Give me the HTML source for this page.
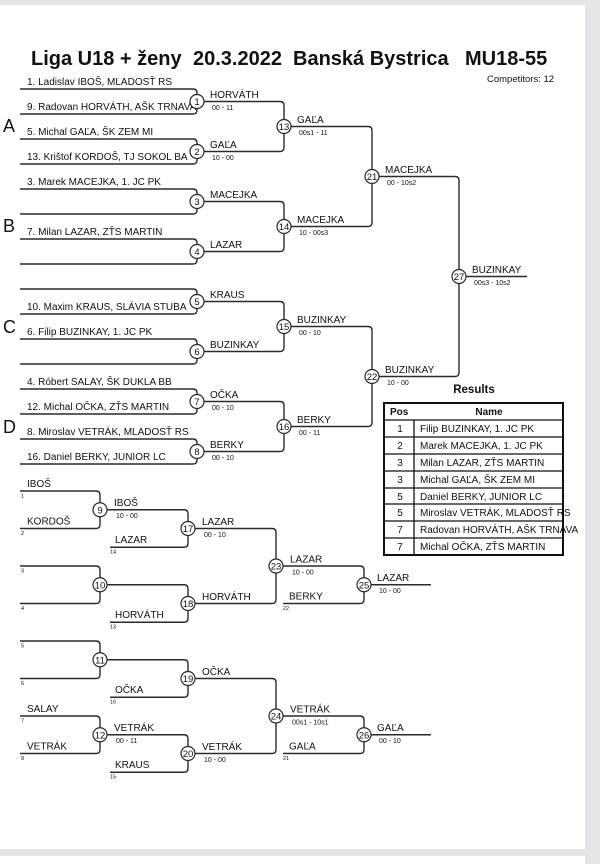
<!DOCTYPE html>
<html>
<head>
<meta charset="utf-8">
<style>
html,body{margin:0;padding:0;width:600px;height:864px;overflow:hidden;background:#e4e4e9;}
svg{display:block;}
text{font-family:"Liberation Sans",Arial,sans-serif;fill:#111;}
.n{font-size:10px;}
.s{font-size:7px;}
.sd{font-size:5.5px;}
.c{font-size:9.5px;text-anchor:middle;}
.t{font-size:20px;font-weight:bold;}
.g{font-size:18px;}
.ln{fill:none;stroke:#2a2a2a;stroke-width:1.4;}
.cir{fill:#fff;stroke:#2a2a2a;stroke-width:1.2;}
</style>
</head>
<body>
<svg width="600" height="864" viewBox="0 0 600 864" xmlns="http://www.w3.org/2000/svg">
<rect x="0" y="0" width="600" height="864" fill="#e4e4e9"/>
<rect x="0" y="5" width="585" height="844" fill="#ffffff"/>
<rect x="0" y="856" width="585" height="8" fill="#ffffff"/>

<!-- Title -->
<text class="t" x="31" y="65">Liga U18 + ženy</text>
<text class="t" x="193" y="65">20.3.2022</text>
<text class="t" x="293" y="65">Banská Bystrica</text>
<text class="t" x="465" y="65">MU18-55</text>
<text x="487" y="82" style="font-size:9.5px">Competitors: 12</text>

<!-- Group letters -->
<text class="g" x="3" y="132">A</text>
<text class="g" x="3" y="232">B</text>
<text class="g" x="3" y="333">C</text>
<text class="g" x="3" y="433">D</text>

<!-- Main bracket lines -->
<path class="ln" d="M20 89 H193 Q197 89 197 93 V110 Q197 114 193 114 H20"/>
<path class="ln" d="M20 139 H193 Q197 139 197 143 V160 Q197 164 193 164 H20"/>
<path class="ln" d="M20 189 H193 Q197 189 197 193 V210 Q197 214 193 214 H20"/>
<path class="ln" d="M20 239 H193 Q197 239 197 243 V260 Q197 264 193 264 H20"/>
<path class="ln" d="M20 289 H193 Q197 289 197 293 V310 Q197 314 193 314 H20"/>
<path class="ln" d="M20 339 H193 Q197 339 197 343 V360 Q197 364 193 364 H20"/>
<path class="ln" d="M20 389 H193 Q197 389 197 393 V410 Q197 414 193 414 H20"/>
<path class="ln" d="M20 439 H193 Q197 439 197 443 V460 Q197 464 193 464 H20"/>

<path class="ln" d="M197 101.5 H280 Q284 101.5 284 105.5 V147.5 Q284 151.5 280 151.5 H197"/>
<path class="ln" d="M197 201.5 H280 Q284 201.5 284 205.5 V247.5 Q284 251.5 280 251.5 H197"/>
<path class="ln" d="M197 301.5 H280 Q284 301.5 284 305.5 V347.5 Q284 351.5 280 351.5 H197"/>
<path class="ln" d="M197 401.5 H280 Q284 401.5 284 405.5 V447.5 Q284 451.5 280 451.5 H197"/>

<path class="ln" d="M284 126.5 H368 Q372 126.5 372 130.5 V222.5 Q372 226.5 368 226.5 H284"/>
<path class="ln" d="M284 326.5 H368 Q372 326.5 372 330.5 V422.5 Q372 426.5 368 426.5 H284"/>

<path class="ln" d="M372 176.5 H455 Q459 176.5 459 180.5 V372.5 Q459 376.5 455 376.5 H372"/>
<path class="ln" d="M459 276.5 H527"/>

<!-- Player names -->
<text class="n" x="27" y="85">1. Ladislav IBOŠ, MLADOSŤ RS</text>
<text class="n" x="27" y="110">9. Radovan HORVÁTH, AŠK TRNAVA</text>
<text class="n" x="27" y="135">5. Michal GAĽA, ŠK ZEM MI</text>
<text class="n" x="27" y="160">13. Krištof KORDOŠ, TJ SOKOL BA</text>
<text class="n" x="27" y="185">3. Marek MACEJKA, 1. JC PK</text>
<text class="n" x="27" y="235">7. Milan LAZAR, ZŤS MARTIN</text>
<text class="n" x="27" y="310">10. Maxim KRAUS, SLÁVIA STUBA</text>
<text class="n" x="27" y="335">6. Filip BUZINKAY, 1. JC PK</text>
<text class="n" x="27" y="385">4. Róbert SALAY, ŠK DUKLA BB</text>
<text class="n" x="27" y="410">12. Michal OČKA, ZŤS MARTIN</text>
<text class="n" x="27" y="435">8. Miroslav VETRÁK, MLADOSŤ RS</text>
<text class="n" x="27" y="460">16. Daniel BERKY, JUNIOR LC</text>

<!-- Winner labels main -->
<text class="n" x="210" y="98">HORVÁTH</text><text class="s" x="212" y="110">00 - 11</text>
<text class="n" x="210" y="148">GAĽA</text><text class="s" x="212" y="160">10 - 00</text>
<text class="n" x="210" y="198">MACEJKA</text>
<text class="n" x="210" y="248">LAZAR</text>
<text class="n" x="210" y="298">KRAUS</text>
<text class="n" x="210" y="348">BUZINKAY</text>
<text class="n" x="210" y="398">OČKA</text><text class="s" x="212" y="410">00 - 10</text>
<text class="n" x="210" y="448">BERKY</text><text class="s" x="212" y="460">00 - 10</text>

<text class="n" x="297" y="123">GAĽA</text><text class="s" x="299" y="135">00s1 - 11</text>
<text class="n" x="297" y="223">MACEJKA</text><text class="s" x="299" y="235">10 - 00s3</text>
<text class="n" x="297" y="323">BUZINKAY</text><text class="s" x="299" y="335">00 - 10</text>
<text class="n" x="297" y="423">BERKY</text><text class="s" x="299" y="435">00 - 11</text>

<text class="n" x="385" y="173">MACEJKA</text><text class="s" x="387" y="185">00 - 10s2</text>
<text class="n" x="385" y="373">BUZINKAY</text><text class="s" x="387" y="385">10 - 00</text>

<text class="n" x="472" y="273">BUZINKAY</text><text class="s" x="474" y="285">00s3 - 10s2</text>

<!-- Main circles -->
<g>
<circle class="cir" cx="197" cy="101.5" r="7"/><text class="c" x="197" y="105">1</text>
<circle class="cir" cx="197" cy="151.5" r="7"/><text class="c" x="197" y="155">2</text>
<circle class="cir" cx="197" cy="201.5" r="7"/><text class="c" x="197" y="205">3</text>
<circle class="cir" cx="197" cy="251.5" r="7"/><text class="c" x="197" y="255">4</text>
<circle class="cir" cx="197" cy="301.5" r="7"/><text class="c" x="197" y="305">5</text>
<circle class="cir" cx="197" cy="351.5" r="7"/><text class="c" x="197" y="355">6</text>
<circle class="cir" cx="197" cy="401.5" r="7"/><text class="c" x="197" y="405">7</text>
<circle class="cir" cx="197" cy="451.5" r="7"/><text class="c" x="197" y="455">8</text>
<circle class="cir" cx="284" cy="126.5" r="7"/><text class="c" x="284" y="130">13</text>
<circle class="cir" cx="284" cy="226.5" r="7"/><text class="c" x="284" y="230">14</text>
<circle class="cir" cx="284" cy="326.5" r="7"/><text class="c" x="284" y="330">15</text>
<circle class="cir" cx="284" cy="426.5" r="7"/><text class="c" x="284" y="430">16</text>
<circle class="cir" cx="372" cy="176.5" r="7"/><text class="c" x="372" y="180">21</text>
<circle class="cir" cx="372" cy="376.5" r="7"/><text class="c" x="372" y="380">22</text>
<circle class="cir" cx="459" cy="276.5" r="7"/><text class="c" x="459" y="280">27</text>
</g>

<!-- Results -->
<text x="474" y="393" style="font-size:11.5px;font-weight:bold;text-anchor:middle">Results</text>
<text x="390" y="415" style="font-size:10px;font-weight:bold">Pos</text>
<text x="489" y="415" style="font-size:10px;font-weight:bold;text-anchor:middle">Name</text>
<g class="n">
<text x="400" y="432" text-anchor="middle">1</text><text x="420" y="432">Filip BUZINKAY, 1. JC PK</text>
<text x="400" y="449" text-anchor="middle">2</text><text x="420" y="449">Marek MACEJKA, 1. JC PK</text>
<text x="400" y="466" text-anchor="middle">3</text><text x="420" y="466">Milan LAZAR, ZŤS MARTIN</text>
<text x="400" y="483" text-anchor="middle">3</text><text x="420" y="483">Michal GAĽA, ŠK ZEM MI</text>
<text x="400" y="500" text-anchor="middle">5</text><text x="420" y="500">Daniel BERKY, JUNIOR LC</text>
<text x="400" y="516" text-anchor="middle">5</text><text x="420" y="516">Miroslav VETRÁK, MLADOSŤ RS</text>
<text x="400" y="533" text-anchor="middle">7</text><text x="420" y="533">Radovan HORVÁTH, AŠK TRNAVA</text>
<text x="400" y="550" text-anchor="middle">7</text><text x="420" y="550">Michal OČKA, ZŤS MARTIN</text>
</g>
<g stroke="#111" fill="none">
<rect x="384" y="403" width="179" height="152" stroke-width="2"/>
<line x1="384" y1="420" x2="563" y2="420" stroke-width="1.3"/>
<line x1="384" y1="437" x2="563" y2="437" stroke-width="1.3"/>
<line x1="384" y1="454" x2="563" y2="454" stroke-width="1.3"/>
<line x1="384" y1="471" x2="563" y2="471" stroke-width="1.3"/>
<line x1="384" y1="488" x2="563" y2="488" stroke-width="1.3"/>
<line x1="384" y1="504" x2="563" y2="504" stroke-width="1.3"/>
<line x1="384" y1="521" x2="563" y2="521" stroke-width="1.3"/>
<line x1="384" y1="538" x2="563" y2="538" stroke-width="1.3"/>
<line x1="414" y1="420" x2="414" y2="555" stroke-width="1.3"/>
</g>

<!-- Consolation lines -->
<path class="ln" d="M20 491 H96 Q100 491 100 495 V524.5 Q100 528.5 96 528.5 H20"/>
<path class="ln" d="M20 566 H96 Q100 566 100 570 V599.5 Q100 603.5 96 603.5 H20"/>
<path class="ln" d="M20 641 H96 Q100 641 100 645 V674.5 Q100 678.5 96 678.5 H20"/>
<path class="ln" d="M20 716 H96 Q100 716 100 720 V749.5 Q100 753.5 96 753.5 H20"/>

<path class="ln" d="M100 509.75 H184 Q188 509.75 188 513.75 V543.25 Q188 547.25 184 547.25 H110"/>
<path class="ln" d="M100 584.75 H184 Q188 584.75 188 588.75 V618.25 Q188 622.25 184 622.25 H110"/>
<path class="ln" d="M100 659.75 H184 Q188 659.75 188 663.75 V693.25 Q188 697.25 184 697.25 H110"/>
<path class="ln" d="M100 734.75 H184 Q188 734.75 188 738.75 V768.25 Q188 772.25 184 772.25 H110"/>

<path class="ln" d="M188 528.5 H272 Q276 528.5 276 532.5 V599.5 Q276 603.5 272 603.5 H188"/>
<path class="ln" d="M188 678.5 H272 Q276 678.5 276 682.5 V749.5 Q276 753.5 272 753.5 H188"/>

<path class="ln" d="M276 566 H360 Q364 566 364 570 V599.5 Q364 603.5 360 603.5 H283"/>
<path class="ln" d="M276 716 H360 Q364 716 364 720 V749.5 Q364 753.5 360 753.5 H283"/>
<path class="ln" d="M364 584.75 H431"/>
<path class="ln" d="M364 734.75 H431"/>

<!-- Consolation input names & seeds -->
<text class="n" x="27" y="487">IBOŠ</text>
<text class="n" x="27" y="524.5">KORDOŠ</text>
<text class="n" x="27" y="712">SALAY</text>
<text class="n" x="27" y="749.5">VETRÁK</text>
<text class="sd" x="21" y="497.5">1</text>
<text class="sd" x="21" y="535">2</text>
<text class="sd" x="21" y="572.5">3</text>
<text class="sd" x="21" y="610">4</text>
<text class="sd" x="21" y="647.5">5</text>
<text class="sd" x="21" y="685">6</text>
<text class="sd" x="21" y="722.5">7</text>
<text class="sd" x="21" y="760">8</text>

<text class="n" x="115" y="543">LAZAR</text>
<text class="n" x="115" y="618">HORVÁTH</text>
<text class="n" x="115" y="693">OČKA</text>
<text class="n" x="115" y="768">KRAUS</text>
<text class="sd" x="110" y="553.5">14</text>
<text class="sd" x="110" y="628.5">13</text>
<text class="sd" x="110" y="703.5">16</text>
<text class="sd" x="110" y="778.5">15</text>

<text class="n" x="289" y="599.5">BERKY</text>
<text class="n" x="289" y="749.5">GAĽA</text>
<text class="sd" x="283" y="610">22</text>
<text class="sd" x="283" y="760">21</text>

<!-- Consolation winner labels -->
<text class="n" x="114" y="506">IBOŠ</text><text class="s" x="116" y="518">10 - 00</text>
<text class="n" x="114" y="731">VETRÁK</text><text class="s" x="116" y="743">00 - 11</text>
<text class="n" x="202" y="525">LAZAR</text><text class="s" x="204" y="537">00 - 10</text>
<text class="n" x="202" y="600">HORVÁTH</text>
<text class="n" x="202" y="675">OČKA</text>
<text class="n" x="202" y="750">VETRÁK</text><text class="s" x="204" y="762">10 - 00</text>
<text class="n" x="290" y="562.5">LAZAR</text><text class="s" x="292" y="574.5">10 - 00</text>
<text class="n" x="290" y="712.5">VETRÁK</text><text class="s" x="292" y="724.5">00s1 - 10s1</text>
<text class="n" x="377" y="581">LAZAR</text><text class="s" x="379" y="593">10 - 00</text>
<text class="n" x="377" y="731">GAĽA</text><text class="s" x="379" y="743">00 - 10</text>

<!-- Consolation circles -->
<g>
<circle class="cir" cx="100" cy="509.75" r="7"/><text class="c" x="100" y="513.25">9</text>
<circle class="cir" cx="100" cy="584.75" r="7"/><text class="c" x="100" y="588.25">10</text>
<circle class="cir" cx="100" cy="659.75" r="7"/><text class="c" x="100" y="663.25">11</text>
<circle class="cir" cx="100" cy="734.75" r="7"/><text class="c" x="100" y="738.25">12</text>
<circle class="cir" cx="188" cy="528.5" r="7"/><text class="c" x="188" y="532">17</text>
<circle class="cir" cx="188" cy="603.5" r="7"/><text class="c" x="188" y="607">18</text>
<circle class="cir" cx="188" cy="678.5" r="7"/><text class="c" x="188" y="682">19</text>
<circle class="cir" cx="188" cy="753.5" r="7"/><text class="c" x="188" y="757">20</text>
<circle class="cir" cx="276" cy="566" r="7"/><text class="c" x="276" y="569.5">23</text>
<circle class="cir" cx="276" cy="716" r="7"/><text class="c" x="276" y="719.5">24</text>
<circle class="cir" cx="364" cy="584.75" r="7"/><text class="c" x="364" y="588.25">25</text>
<circle class="cir" cx="364" cy="734.75" r="7"/><text class="c" x="364" y="738.25">26</text>
</g>
</svg>
</body>
</html>
